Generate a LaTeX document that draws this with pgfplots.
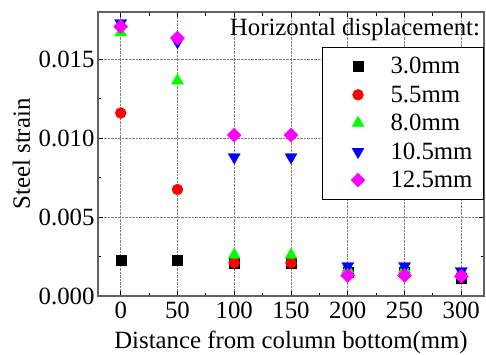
\documentclass[border=0pt]{standalone}
\usepackage{fontspec}
\setmainfont{Liberation Serif}
\usepackage{pgfplots}
\pgfplotsset{compat=1.18}
\definecolor{pgreen}{RGB}{0,255,0}
\definecolor{pred}{RGB}{255,0,0}
\definecolor{pblue}{RGB}{0,0,255}
\definecolor{pmag}{RGB}{255,0,255}
\newcommand{\bigf}{\fontsize{24.8}{30}\selectfont}
\pgfplotsset{
  myleg/.style={legend image code/.code={\path (-26pt,-6pt) (30pt,6pt); \draw[mark repeat=2,mark phase=2,##1] plot coordinates {(-1pt,0pt)(0pt,0pt)(1pt,0pt)};}}
}
\begin{document}
\begin{tikzpicture}[font=\bigf]
\begin{axis}[
  scale only axis, width=386pt, height=284pt,
  xmin=-20, xmax=320, ymin=0, ymax=0.018,
  xtick={0,50,...,300}, ytick={0,0.005,0.01,0.015},
  minor x tick num=1, minor y tick num=1,
  tick align=inside, major tick length=5pt, minor tick length=3.5pt,
  scaled y ticks=false,
  yticklabel style={/pgf/number format/.cd, fixed, fixed zerofill, precision=3},
  /pgf/number format/assume math mode=true,
  grid=major, grid style={densely dotted, gray, line width=0.8pt},
  axis line style={black!62, line width=1.5pt},
  every tick/.style={black, line width=1pt},
  xlabel={Distance from column bottom(mm)},
  ylabel={Steel strain},
  tick label style={font=\bigf},
  xticklabel style={yshift=-2pt},
  xlabel style={font=\bigf, at={(axis description cs:0.5,-0.1831)}, anchor=base},
  ylabel style={font=\bigf, at={(axis description cs:-0.1762,0.5)}, anchor=base},
  legend style={at={(1,0.877)}, anchor=north east, draw=black, line width=1pt,
    font=\bigf, inner xsep=9pt, inner ysep=8pt, row sep=6.5pt},
  legend cell align=left,
]
\addplot[only marks, mark=square*, mark size=5pt, black, mark options={line width=0.3pt}, myleg] coordinates {
(0,0.0023) (50,0.0023) (100,0.0021) (150,0.0021) (200,0.0015) (250,0.0015) (300,0.0011)};
\addlegendentry{3.0mm}
\addplot[only marks, mark=*, mark size=5.5pt, pred, mark options={line width=0.3pt}, myleg] coordinates {
(0,0.0116) (50,0.00675) (100,0.0021) (150,0.0021) (200,0.0015) (250,0.0015) (300,0.0013)};
\addlegendentry{5.5mm}
\addplot[only marks, mark=triangle*, mark size=7pt, pgreen, mark options={line width=0.3pt}, myleg] coordinates {
(0,0.0167) (50,0.01365) (100,0.0026) (150,0.0026) (200,0.0017) (250,0.0017) (300,0.0014)};
\addlegendentry{8.0mm}
\addplot[only marks, mark=triangle*, mark size=7pt, pblue, mark options={rotate=180, line width=0.3pt}, myleg] coordinates {
(0,0.0173) (50,0.0161) (100,0.0088) (150,0.0088) (200,0.0019) (250,0.0019) (300,0.00158)};
\addlegendentry{10.5mm}
\addplot[only marks, mark=square*, mark size=5pt, pmag, mark options={rotate=45, line width=0.3pt}, myleg] coordinates {
(0,0.01707) (50,0.01635) (100,0.0102) (150,0.0102) (200,0.0013) (250,0.0013) (300,0.00125)};
\addlegendentry{12.5mm}
\node[anchor=east, inner sep=0pt, font=\bigf] at (rel axis cs:0.99,0.937) {Horizontal displacement:};
\end{axis}
\pgfresetboundingbox
\useasboundingbox (current axis.south west) ++(-98pt,-58pt) rectangle ([shift={(2pt,12pt)}]current axis.north east);
\end{tikzpicture}
\end{document}
